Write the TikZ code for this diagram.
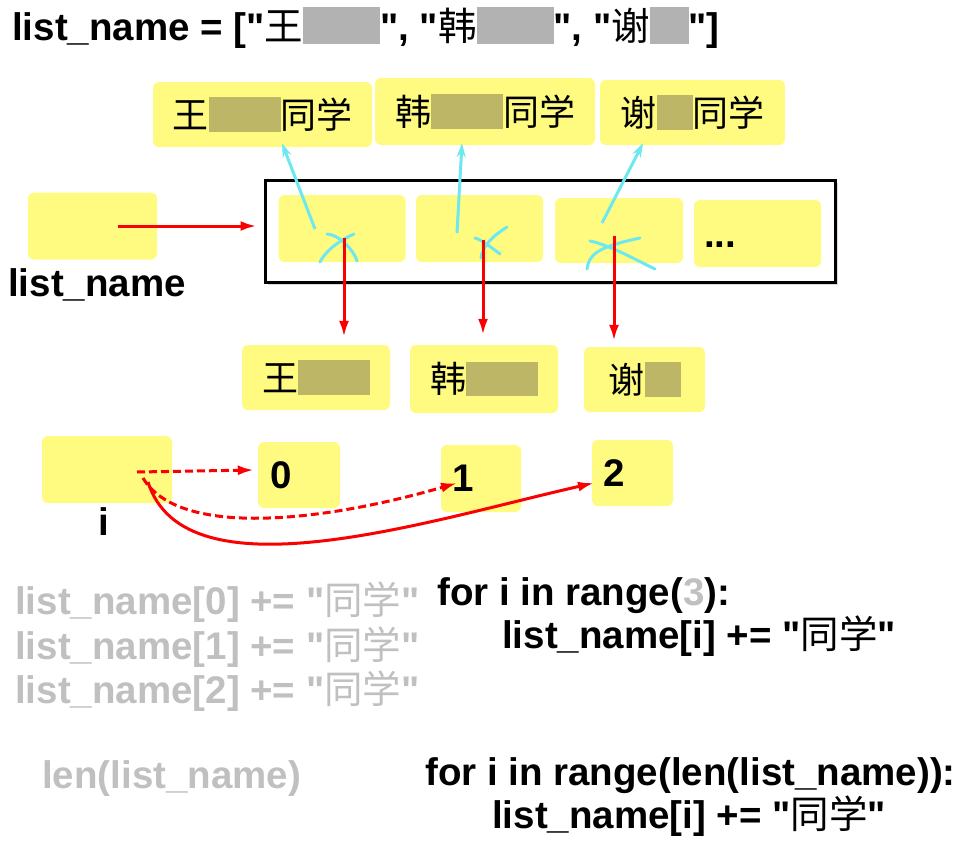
\documentclass[tikz,border=0pt]{standalone}
\usepackage{fontspec}
\setmainfont{Liberation Sans}[Ligatures=TeXOff]
\newfontfamily\cjk{Noto Sans CJK SC}
\usetikzlibrary{arrows.meta,shadows}

\definecolor{notey}{RGB}{255,251,128}
\definecolor{ptrred}{RGB}{250,0,0}
\definecolor{xcyan}{RGB}{110,232,240}
\definecolor{ghost}{RGB}{192,192,192}
\definecolor{smudgey}{RGB}{188,182,102}
\definecolor{smudgew}{RGB}{178,178,178}

\newcommand\zh[1]{{\cjk\mdseries #1}}
\newcommand\smudge[2]{\textcolor{#1}{\rule[-0.1em]{#2em}{0.95em}}}

\tikzset{
  note/.style={fill=notey, rounded corners=6pt, inner sep=0pt},
  code/.style={anchor=base west, inner sep=0pt, font=\fontsize{38.5}{44}\selectfont\bfseries},
  ghostcode/.style={code, text=ghost},
  namefont/.style={font=\fontsize{36}{40}\selectfont\cjk},
  numbox/.style={note, text width=58pt, align=left, font=\fontsize{38.5}{44}\selectfont\bfseries},
  redptr/.style={draw=ptrred, line width=3pt, -{Latex[length=16pt,width=10pt]}},
  oldptr/.style={draw=xcyan, line width=3pt, -{Stealth[length=14pt,width=9pt]}},
  xmark/.style={draw=xcyan, line width=3pt, line cap=round},
}

\begin{document}
\begin{tikzpicture}[x=1pt,y=-1pt]
\useasboundingbox (0,0) rectangle (967,846);

\node[code] (decl) at (12,40) {list\_name = ["\zh{王}\smudge{smudgew}{2}", "\zh{韩}\smudge{smudgew}{2}", "\zh{谢}\smudge{smudgew}{1}"]};

% names after the loop
\node[note, namefont, minimum width=219pt, minimum height=65pt] (ta) at (262.5,114.5) {王\smudge{smudgey}{2}同学};
\node[note, namefont, minimum width=220pt, minimum height=67pt] (tb) at (485,111.5) {韩\smudge{smudgey}{2}同学};
\node[note, namefont, minimum width=185pt, minimum height=65pt] (tc) at (692.5,112.5) {谢\smudge{smudgey}{1}同学};

% the list
\node[note, minimum width=129pt, minimum height=67pt] (ptr) at (92.5,226) {};
\node[code] (ptrlab) at (8,296) {list\_name};
\node[draw, fill=white, line width=3pt, minimum width=570pt, minimum height=102pt, drop shadow={opacity=0.3, shadow xshift=3pt, shadow yshift=-3pt}] (frame) at (550,231) {};
\node[note, minimum width=127pt, minimum height=67pt] (c1) at (342,228.5) {};
\node[note, minimum width=127pt, minimum height=67pt] (c2) at (479.5,228.5) {};
\node[note, minimum width=128pt, minimum height=65pt] (c3) at (619,230.5) {};
\node[note, minimum width=127pt, minimum height=67pt, text width=107pt, align=left, font=\fontsize{38.5}{44}\selectfont\bfseries] (c4) at (757.5,233.5) {\vphantom{l}...};

% names before the loop
\node[note, namefont, minimum width=148pt, minimum height=65pt] (n1) at (316,377.5) {王\smudge{smudgey}{2}};
\node[note, namefont, minimum width=148pt, minimum height=68pt] (n2) at (484,379) {韩\smudge{smudgey}{2}};
\node[note, namefont, minimum width=121pt, minimum height=65pt] (n3) at (644.5,379.5) {谢\smudge{smudgey}{1}};

\draw[redptr] ([xshift=25pt]ptr.center) -- ([xshift=-7pt]frame.west |- ptr.center);

% crossed out pointers
\draw[xmark] (320,262) .. controls (324,254) and (334,243) .. (354,234);
\draw[xmark] (327,234) .. controls (338,234) and (354,250) .. (357,261);
\draw[xmark] (481,258) .. controls (482,246) and (494,235) .. (507,227);
\draw[xmark] (475,238) .. controls (482,240) and (492,248) .. (500,254);
\draw[xmark] (587,269) .. controls (589,254) and (598,247) .. (640,238);
\draw[xmark] (590,241) .. controls (610,245) and (640,262) .. (655,269);

\draw[redptr] ([xshift=2pt,yshift=-9pt]c1.center) -- ([xshift=28pt,yshift=8pt]n1.north);
\draw[redptr] ([xshift=3.5pt,yshift=-11pt]c2.center) -- ([xshift=-1pt,yshift=10pt]n2.north);
\draw[redptr] ([xshift=-5pt,yshift=-5pt]c3.center) -- ([xshift=-30.5pt,yshift=6pt]n3.north);

\draw[oldptr] ([xshift=-27pt,yshift=-0.5pt]c1.center) -- ([xshift=19.5pt,yshift=4pt]ta.south);
\draw[oldptr] ([xshift=-22.5pt,yshift=-4.5pt]c2.center) -- ([xshift=-23pt,yshift=2pt]tb.south);
\draw[oldptr] ([xshift=-17pt,yshift=7.5pt]c3.center) -- ([xshift=-49.5pt,yshift=2pt]tc.south);

% loop variable
\node[note, minimum width=130pt, minimum height=67pt] (iv) at (107,469.5) {};
\node[code] (ilab) at (98,535) {i};
\node[numbox, minimum width=82pt, minimum height=66pt] (b0) at (299,475) {0};
\node[numbox, minimum width=80pt, minimum height=67pt] (b1) at (481,478.5) {1};
\node[numbox, minimum width=81pt, minimum height=66pt] (b2) at (632.5,473) {2};

\draw[redptr, dash pattern=on 8pt off 4pt] ([xshift=30pt,yshift=-2.5pt]iv.center) -- ([xshift=-4pt,yshift=5pt]b0.west);
\draw[redptr, dash pattern=on 8pt off 4pt] ([xshift=36pt,yshift=-8.5pt]iv.center) .. controls (180,540) and (330,520) .. ([xshift=-24pt,yshift=-4.5pt]b1.center);
\draw[redptr] ([xshift=41pt,yshift=-12.5pt]iv.center) .. controls (185,600) and (430,520) .. ([xshift=-38.5pt,yshift=-10pt]b2.center);

% code
\node[ghostcode] (g0) at (15,614) {list\_name[0] += "\zh{同学}"};
\node[ghostcode] (g1) at (15,659) {list\_name[1] += "\zh{同学}"};
\node[ghostcode] (g2) at (15,703) {list\_name[2] += "\zh{同学}"};
\node[code] (loop1) at (437,605) {for i in range(\textcolor{ghost}{3}):};
\node[code] (body1) at (502,648) {list\_name[i] += "\zh{同学}"};
\node[ghostcode] (glen) at (42,788) {len(list\_name)};
\node[code] (loop2) at (425,785) {for i in range(len(list\_name)):};
\node[code] (body2) at (492,828) {list\_name[i] += "\zh{同学}"};
\end{tikzpicture}
\end{document}
